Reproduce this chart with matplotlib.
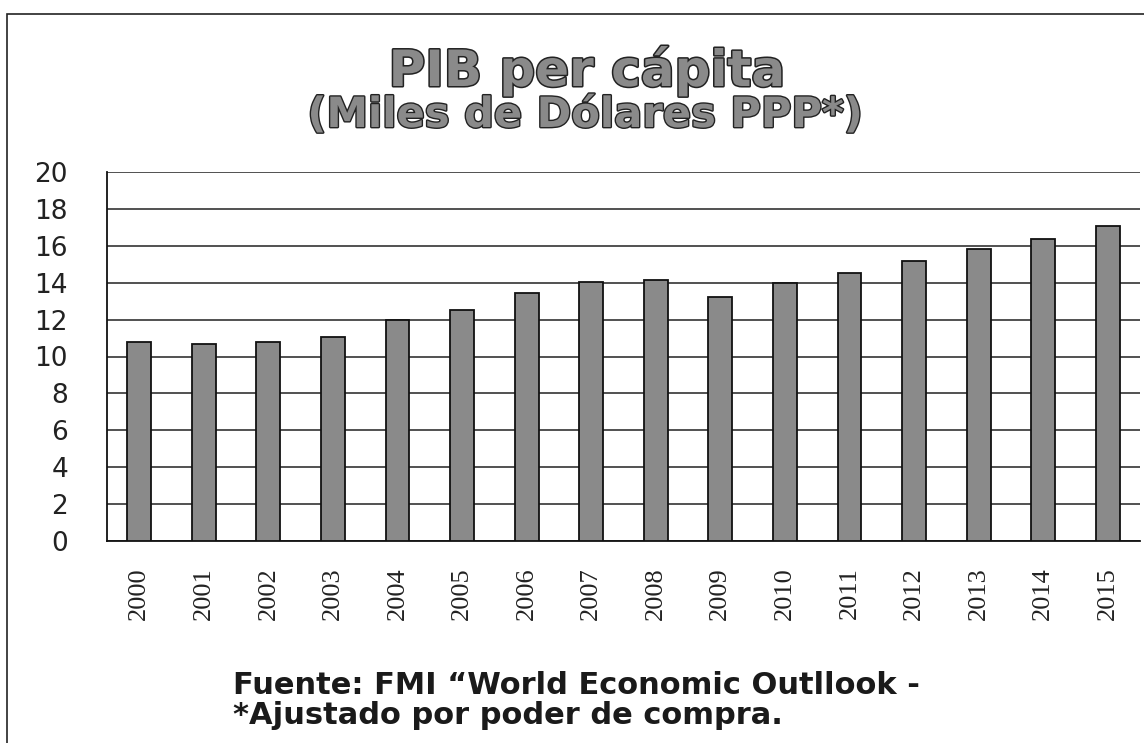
import matplotlib
matplotlib.use("Agg")
import matplotlib.pyplot as plt
import matplotlib.patheffects as pe
from matplotlib.patches import Rectangle

years = ["2000", "2001", "2002", "2003", "2004", "2005", "2006", "2007",
         "2008", "2009", "2010", "2011", "2012", "2013", "2014", "2015"]
pib = [10.8, 10.7, 10.8, 11.05, 12.0, 12.5, 13.45, 14.05,
       14.15, 13.25, 14.0, 14.55, 15.2, 15.8, 16.35, 17.05]
yticks = [0, 2, 4, 6, 8, 10, 12, 14, 16, 18, 20]

W, H = 1144, 743
fig = plt.figure(figsize=(W / 100, H / 100), dpi=100)
fig.patch.set_facecolor("white")

# outer frame
fig.add_artist(Rectangle((7 / W, -0.05), 1.2, (H - 14) / H + 0.05,
                         transform=fig.transFigure, fill=False,
                         edgecolor="#222222", linewidth=1.2))

ax = fig.add_axes([107 / W, (H - 541) / H, (1140 - 107) / W, (541 - 172) / H])
x = list(range(len(years)))
ax.bar(x, pib, width=0.37, color="#8a8a8a", edgecolor="#111111",
       linewidth=1.3, zorder=3)
ax.set_xlim(-0.5, len(years) - 0.5)
ax.set_ylim(0, 20)
ax.set_yticks(yticks)
ax.yaxis.grid(True, color="#222222", linewidth=1.1)
ax.set_axisbelow(True)
for s in ["top", "right"]:
    ax.spines[s].set_visible(False)
for s in ["left", "bottom"]:
    ax.spines[s].set_color("#111111")
    ax.spines[s].set_linewidth(1.3)
ax.tick_params(axis="both", length=0)
ax.tick_params(axis="y", pad=28)
ax.tick_params(axis="x", pad=19)
ax.set_yticklabels([str(v) for v in yticks], fontfamily="DejaVu Sans",
                   fontsize=19, color="#222222")
ax.set_xticks(x)
ax.set_xticklabels(years, rotation=90, fontfamily="Liberation Serif",
                   fontsize=19, color="#222222")

fig.text(587 / W, 1 - 86 / H, "PIB per cápita", ha="center", va="baseline",
         fontfamily="DejaVu Sans", fontweight="bold", fontsize=36,
         color="#8a8a8a",
         path_effects=[pe.withStroke(linewidth=2.2, foreground="#222222")])
fig.text(585 / W, 1 - 127 / H, "(Miles de Dólares PPP*)", ha="center",
         va="baseline", fontfamily="DejaVu Sans", fontweight="bold",
         fontsize=30, color="#8a8a8a",
         path_effects=[pe.withStroke(linewidth=2.0, foreground="#222222")])

fig.text(233 / W, 1 - 685 / H, "Fuente: FMI \u201cWorld Economic Outllook -",
         ha="left", va="center", fontfamily="DejaVu Sans",
         fontweight="bold", fontsize=22, color="#1a1a1a")
fig.text(233 / W, 1 - 716 / H, "*Ajustado por poder de compra.",
         ha="left", va="center", fontfamily="DejaVu Sans",
         fontweight="bold", fontsize=22, color="#1a1a1a")

fig.savefig("out.png", dpi=100)
